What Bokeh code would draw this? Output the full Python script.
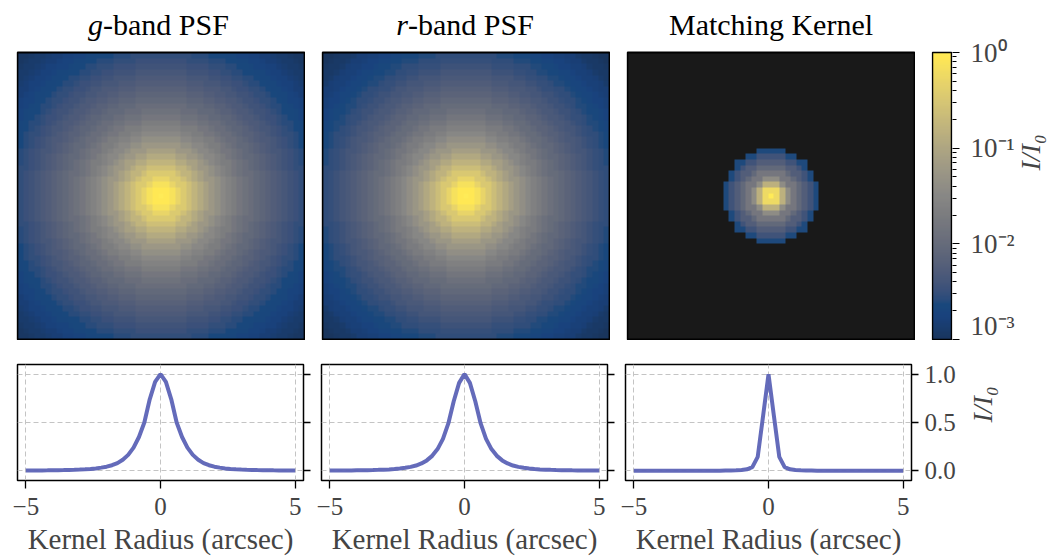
import math
import numpy as np
from bokeh.plotting import figure
from bokeh.layouts import column, row
from bokeh.models import LogColorMapper, LinearColorMapper, FixedTicker
from bokeh.core.properties import value
from bokeh.palettes import Cividis256
from bokeh.embed import file_html
from bokeh.resources import INLINE

# Radial profiles sampled every 0.2 arcsec (r = 0.0, 0.2, ..., 7.2), normalised to the peak
PIXEL_SCALE = 0.2
g_profile = [1.0, 0.92, 0.74, 0.50, 0.35, 0.24, 0.165, 0.115, 0.080, 0.058,
             0.043, 0.033, 0.025, 0.020, 0.016, 0.013, 0.0108, 0.0090, 0.0076, 0.0065,
             0.0056, 0.0048, 0.0042, 0.0037, 0.0033, 0.0029, 0.0026, 0.0023, 0.0021, 0.0019,
             0.0017, 0.0015, 0.0014, 0.0013, 0.0012, 0.0011, 0.0010]
r_profile = [1.0, 0.91, 0.72, 0.49, 0.33, 0.225, 0.155, 0.108, 0.076, 0.055,
             0.041, 0.031, 0.024, 0.019, 0.015, 0.0122, 0.0101, 0.0085, 0.0072, 0.0061,
             0.0053, 0.0046, 0.0040, 0.0035, 0.0031, 0.0028, 0.0025, 0.0022, 0.0020, 0.0018,
             0.0016, 0.0015, 0.0013, 0.0012, 0.0011, 0.0010, 0.0009]
kernel_profile = [1.0, 0.57, 0.145, 0.038, 0.016, 0.009, 0.0055, 0.0037, 0.0024, 0.0,
                  0.0, 0.0, 0.0, 0.0, 0.0, 0.0, 0.0, 0.0, 0.0, 0.0,
                  0.0, 0.0, 0.0, 0.0, 0.0, 0.0, 0.0, 0.0, 0.0, 0.0,
                  0.0, 0.0, 0.0, 0.0, 0.0, 0.0, 0.0]

panel_titles = [("g", "-band PSF"), ("r", "-band PSF"), ("", "Matching Kernel")]
x_ticks = [-5, 0, 5]
x_tick_labels = ["−5", "0", "5"]
y_ticks = [0, 0.5, 1]
y_tick_labels = ["0.0", "0.5", "1.0"]
cbar_ticks = [-3, -2, -1, 0]
cbar_tick_labels = ["10⁻³", "10⁻²", "10⁻¹", "10⁰"]
x_label = "Kernel Radius (arcsec)"
y_label = "I/I₀"

FONT = "Liberation Serif"
LINE_COLOR = "#5c63b6"
IMG_ALPHA = 0.9
HALF = 25                      # stamps are (2*HALF+1) pixels on a side
EXTENT = PIXEL_SCALE * (HALF + 0.5)
STAMP_PX = 287                 # on-screen size of a stamp
TITLE_PX = 52                  # room above each stamp for its title
TITLE_LIFT = 28                # title baseline height above the stamp, in pixels
PAD = 1                        # spare pixel so the stamp border is not clipped

offsets = np.arange(-HALF, HALF + 1)
ring = np.rint(np.hypot(offsets[:, None], offsets[None, :])).astype(int)


def stamp(profile):
    img = np.asarray(profile, dtype=float)[ring]
    img[img <= 0] = np.nan
    return img


def cut(profile):
    prof = np.asarray(profile, dtype=float)
    return PIXEL_SCALE * offsets, prof[np.abs(offsets)]


mapper = LogColorMapper(palette=Cividis256, low=1e-3, high=1.0, nan_color="black")


def image_panel(profile, title):
    upp = 2 * EXTENT / STAMP_PX          # data units per screen pixel
    p = figure(frame_width=STAMP_PX + 2 * PAD, frame_height=STAMP_PX + TITLE_PX + PAD,
               min_border_left=17 - PAD, min_border_right=0, min_border_top=0, min_border_bottom=0,
               title=None,
               x_range=(-EXTENT - PAD * upp, EXTENT + PAD * upp),
               y_range=(-EXTENT - PAD * upp, EXTENT + TITLE_PX * upp),
               x_axis_location=None, y_axis_location=None,
               toolbar_location=None, output_backend="svg")
    p.grid.visible = False
    p.outline_line_color = None
    p.image(image=[stamp(profile)], x=-EXTENT, y=-EXTENT, dw=2 * EXTENT, dh=2 * EXTENT,
            color_mapper=mapper, global_alpha=IMG_ALPHA)
    p.rect(x=[0], y=[0], width=2 * EXTENT, height=2 * EXTENT,
           fill_color=None, line_color="black", line_width=1.8)
    italic, rest = title
    ty = EXTENT + TITLE_LIFT * upp
    common = dict(text_baseline="alphabetic", text_font=value(FONT),
                  text_font_size="30px", text_color="black")
    if italic:
        split = -58
        p.text(x=[0], y=[ty], text=[italic], x_offset=split, text_align="right",
               text_font_style="italic", **common)
        p.text(x=[0], y=[ty], text=[rest], x_offset=split, text_align="left", **common)
    else:
        p.text(x=[0], y=[ty], text=[rest], text_align="center", **common)
    return p


def colorbar_panel():
    upp = 3 / STAMP_PX                   # decades per screen pixel
    bar_px = 19
    xpp = 1 / bar_px
    p = figure(frame_width=bar_px + 2 * PAD, frame_height=STAMP_PX + TITLE_PX + PAD,
               min_border_left=17 - PAD, min_border_right=104, min_border_top=0,
               min_border_bottom=0, title=None,
               x_range=(-PAD * xpp, 1 + PAD * xpp),
               y_range=(-3 - PAD * upp, TITLE_PX * upp),
               x_axis_location=None, y_axis_location="right",
               toolbar_location=None, output_backend="svg")
    p.grid.visible = False
    p.outline_line_color = None
    levels = np.linspace(-3, 0, 256).reshape(-1, 1)
    p.image(image=[levels], x=0, y=-3, dw=1, dh=3, global_alpha=IMG_ALPHA,
            color_mapper=LinearColorMapper(palette=Cividis256, low=-3, high=0))
    p.rect(x=[0.5], y=[-1.5], width=1, height=3,
           fill_color=None, line_color="black", line_width=1.5)
    minor = [e + math.log10(k) for e in (-3, -2, -1) for k in range(2, 10)]
    ax = p.yaxis[0]
    ax.ticker = FixedTicker(ticks=cbar_ticks, minor_ticks=minor)
    ax.major_label_overrides = dict(zip(cbar_ticks, cbar_tick_labels))
    ax.axis_line_color = None
    ax.major_tick_out = 7
    ax.major_tick_in = 0
    ax.minor_tick_out = 4
    ax.minor_tick_in = 0
    ax.major_tick_line_width = 1.2
    ax.minor_tick_line_width = 1.0
    ax.major_label_text_font = FONT
    ax.major_label_text_font_size = "27px"
    ax.major_label_standoff = 11
    ax.axis_label = y_label
    ax.axis_label_text_font = FONT
    ax.axis_label_text_font_style = "italic"
    ax.axis_label_text_font_size = "28px"
    ax.axis_label_standoff = 13
    ax.axis_label_orientation = math.pi / 2
    return p


def profile_panel(profile, left, right, last):
    p = figure(frame_width=286, frame_height=116, min_border_left=left, min_border_right=right,
               min_border_top=24, min_border_bottom=77, title=None,
               x_range=(-5.31, 5.31), y_range=(-0.1, 1.1),
               y_axis_location="right",
               toolbar_location=None, output_backend="svg")
    xs, ys = cut(profile)
    p.line(xs, ys, line_color=LINE_COLOR, line_width=4, line_alpha=0.95)
    p.outline_line_color = "black"
    p.outline_line_width = 1.5
    for g in (p.xgrid[0], p.ygrid[0]):
        g.grid_line_color = "#c4c4c4"
        g.grid_line_dash = "5 3"
        g.grid_line_width = 1
    p.xgrid[0].ticker = FixedTicker(ticks=x_ticks)
    p.ygrid[0].ticker = FixedTicker(ticks=y_ticks)

    xa = p.xaxis[0]
    xa.ticker = FixedTicker(ticks=x_ticks, minor_ticks=[])
    xa.major_label_overrides = dict(zip(x_ticks, x_tick_labels))
    xa.axis_line_color = None
    xa.major_tick_out = 8
    xa.major_tick_in = 0
    xa.major_tick_line_width = 1.3
    xa.major_label_text_font = FONT
    xa.major_label_text_font_size = "25px"
    xa.major_label_standoff = 9
    xa.axis_label = x_label
    xa.axis_label_text_font = FONT
    xa.axis_label_text_font_style = "normal"
    xa.axis_label_text_font_size = "29px"
    xa.axis_label_standoff = 5

    ya = p.yaxis[0]
    ya.ticker = FixedTicker(ticks=y_ticks, minor_ticks=[])
    ya.axis_line_color = None
    ya.major_tick_out = 7
    ya.major_tick_in = 0
    ya.major_tick_line_width = 1.3
    ya.major_label_text_font = FONT
    if last:
        ya.major_label_overrides = dict(zip(y_ticks, y_tick_labels))
        ya.major_label_text_font_size = "25px"
        ya.major_label_standoff = 6
        ya.axis_label = y_label
        ya.axis_label_text_font = FONT
        ya.axis_label_text_font_style = "italic"
        ya.axis_label_text_font_size = "28px"
        ya.axis_label_standoff = 24
        ya.axis_label_orientation = math.pi / 2
    else:
        ya.major_label_overrides = {t: "" for t in y_ticks}
        ya.major_label_standoff = 0
    return p


top = row(image_panel(g_profile, panel_titles[0]),
          image_panel(r_profile, panel_titles[1]),
          image_panel(kernel_profile, panel_titles[2]),
          colorbar_panel())
bottom = row(profile_panel(g_profile, 17, 9, False),
             profile_panel(r_profile, 9, 9, False),
             profile_panel(kernel_profile, 9, 120, True))
layout = column(top, bottom)

open("out.html", "w").write(file_html(layout, INLINE))
